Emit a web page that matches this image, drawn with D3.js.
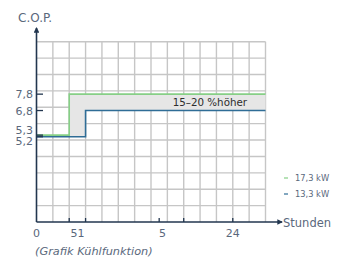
<!DOCTYPE html>
<html>
<head>
<meta charset="utf-8">
<script src="https://cdn.jsdelivr.net/npm/d3@7"></script>
<style>
  body { margin: 0; background: #fff; }
  text { font-family: "DejaVu Sans", sans-serif; }
</style>
</head>
<body>
<script>
const width = 344;
const height = 259;

// data
const xTicks = [2, 3, 7.5, 9, 12];
const xLabelPos = [0, 2.5, 7.7, 12];
const xLabels = ["0", "51", "5", "24"];
const yTicks = [7.8, 6.8, 5.3, 5.2];
const yLabels = ["7,8", "6,8", "5,3", "5,2"];
const seriesNames = ["17,3 kW", "13,3 kW"];
const stepX = [0, 2, 3, 14];
const high = [5.3, 7.8, 7.8, 7.8];   // 17,3 kW
const low = [5.2, 5.2, 6.8, 6.8];    // 13,3 kW

const axisColor = "#22364f";
const textColor = "#5a687c";
const green = "#86cf86";
const blue = "#2f6d96";

const svg = d3.select("body").append("svg")
	.attr("width", width)
	.attr("height", height);

const x = d3.scaleLinear().domain([0, 14]).range([36.5, 265.5]);
const y = d3.scaleLinear().domain([0, 11]).range([222, 41.7]);

// grid
const grid = svg.append("g").attr("stroke", "#c6c6c6").attr("stroke-width", 1.4);
grid.selectAll("line.h")
	.data(d3.range(1, 12))
	.enter().append("line")
	.attr("x1", x(0)).attr("x2", x(14))
	.attr("y1", d => y(d)).attr("y2", d => y(d));
grid.selectAll("line.v")
	.data(d3.range(1, 15))
	.enter().append("line")
	.attr("y1", y(0)).attr("y2", y(11))
	.attr("x1", d => x(d)).attr("x2", d => x(d));

// band between the two series
const pts = stepX.map((d, i) => ({ x: d, lo: low[i], hi: high[i] }));
svg.append("path")
	.datum(pts)
	.attr("fill", "#e6e6e6")
	.attr("d", d3.area()
		.curve(d3.curveStepAfter)
		.x(d => x(d.x))
		.y0(d => y(d.lo))
		.y1(d => y(d.hi)));

const line = key => d3.line()
	.curve(d3.curveStepAfter)
	.x(d => x(d.x))
	.y(d => y(d[key]));

svg.append("path").datum(pts)
	.attr("fill", "none").attr("stroke", green).attr("stroke-width", 1.6)
	.attr("d", line("hi"));
svg.append("path").datum(pts)
	.attr("fill", "none").attr("stroke", blue).attr("stroke-width", 1.6)
	.attr("d", line("lo"));

svg.append("text")
	.attr("x", x(10.6)).attr("y", (y(7.8) + y(6.8)) / 2 + 4)
	.attr("text-anchor", "middle")
	.attr("font-size", 10.3)
	.attr("fill", "#2d2d2d")
	.text("15–20 %höher");

// axes
svg.append("defs").append("marker")
	.attr("id", "arr")
	.attr("viewBox", "0 0 6 6")
	.attr("refX", 5).attr("refY", 3)
	.attr("markerWidth", 3.5).attr("markerHeight", 3.5)
	.attr("orient", "auto")
	.append("path").attr("d", "M0,0L6,3L0,6Z").attr("fill", axisColor);

svg.append("line")
	.attr("x1", x(0)).attr("x2", x(0))
	.attr("y1", y(0)).attr("y2", 28)
	.attr("stroke", axisColor).attr("stroke-width", 1.6)
	.attr("marker-end", "url(#arr)");
svg.append("line")
	.attr("x1", x(0)).attr("x2", 282)
	.attr("y1", y(0)).attr("y2", y(0))
	.attr("stroke", axisColor).attr("stroke-width", 1.6)
	.attr("marker-end", "url(#arr)");

svg.selectAll("line.xt")
	.data(xTicks)
	.enter().append("line")
	.attr("x1", d => x(d)).attr("x2", d => x(d))
	.attr("y1", y(0)).attr("y2", y(0) - 4)
	.attr("stroke", axisColor).attr("stroke-width", 1.3);

svg.selectAll("line.yt")
	.data(yTicks)
	.enter().append("line")
	.attr("x1", x(0)).attr("x2", x(0) + 6.5)
	.attr("y1", d => y(d)).attr("y2", d => y(d))
	.attr("stroke", axisColor).attr("stroke-width", 1.3);

svg.selectAll("text.xl")
	.data(xLabels)
	.enter().append("text")
	.attr("x", (d, i) => x(xLabelPos[i]))
	.attr("y", 236.5)
	.attr("text-anchor", "middle")
	.attr("font-size", 11)
	.attr("fill", textColor)
	.text(d => d);

svg.selectAll("text.yl")
	.data(yLabels)
	.enter().append("text")
	.attr("x", 33)
	.attr("y", (d, i) => y(yTicks[i]) + (i == 2 ? -1.2 : i == 3 ? 8.6 : 4))
	.attr("text-anchor", "end")
	.attr("font-size", 11)
	.attr("fill", textColor)
	.text(d => d);

svg.append("text")
	.attr("x", 18).attr("y", 21.5)
	.attr("font-size", 12)
	.attr("fill", textColor)
	.text("C.O.P.");

svg.append("text")
	.attr("x", 283).attr("y", 226.5)
	.attr("font-size", 11.5)
	.attr("fill", textColor)
	.text("Stunden");

svg.append("text")
	.attr("x", 35).attr("y", 255)
	.attr("font-size", 11.3)
	.attr("font-style", "italic")
	.attr("fill", textColor)
	.text("(Grafik Kühlfunktion)");

// legend
const legend = svg.selectAll("g.lg")
	.data(seriesNames)
	.enter().append("g")
	.attr("transform", (d, i) => `translate(284,${178 + i * 16})`);
legend.append("line")
	.attr("x1", 0).attr("x2", 4)
	.attr("stroke", (d, i) => i == 0 ? green : blue)
	.attr("stroke-width", 1.2);
legend.append("text")
	.attr("x", 11).attr("y", 3)
	.attr("font-size", 8.3)
	.attr("fill", textColor)
	.text(d => d);
</script>
</body>
</html>
